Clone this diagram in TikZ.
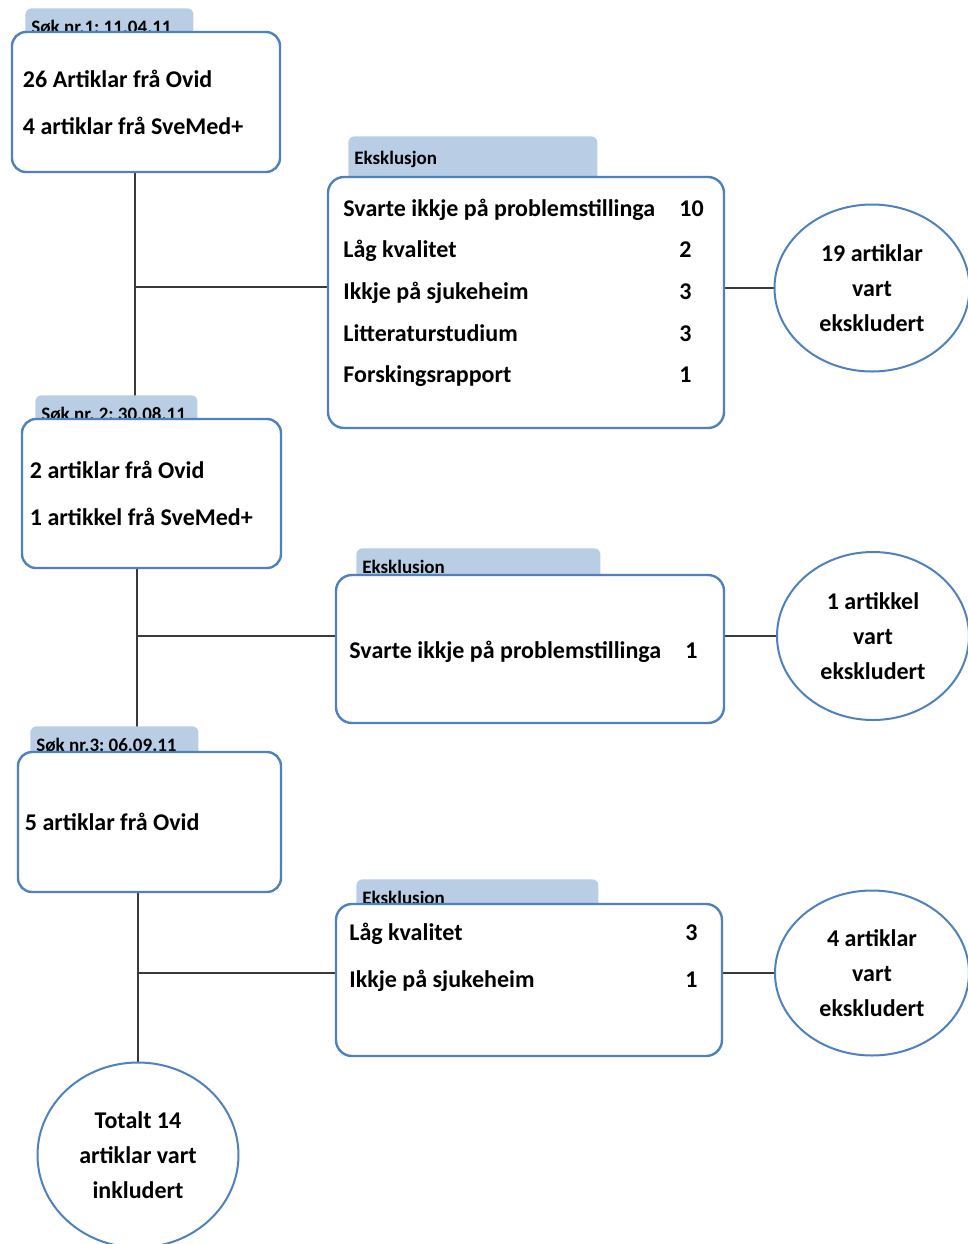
\documentclass[tikz,border=0pt]{standalone}
\usepackage{fontspec}
\setmainfont{Carlito}
\usetikzlibrary{shapes.geometric,positioning,backgrounds}
\definecolor{boxblue}{HTML}{4F81BD}
\definecolor{tabblue}{HTML}{B9CDE5}
\definecolor{linegray}{HTML}{3A3A3A}
\newcommand{\exrow}[2]{\makebox[168pt][l]{#1}#2}
\frenchspacing

\begin{document}
\begin{tikzpicture}[x=0.5pt,y=-0.5pt,
	sbox/.style={draw=boxblue,line width=1.2pt,fill=white,rounded corners=7pt,align=flush left,font=\bfseries\fontsize{12}{23.5}\selectfont},
	xbox/.style={draw=boxblue,line width=1.2pt,fill=white,rounded corners=8pt},
	tab/.style={fill=tabblue,rounded corners=3pt,anchor=north west,align=flush left,text width=#1,inner xsep=3pt,inner ysep=2pt,text height=10.5pt,text depth=10pt,font=\bfseries\fontsize{9.5}{11}\selectfont},
	row/.style={anchor=mid west,inner sep=0pt,font=\bfseries\fontsize{12}{14}\selectfont},
	res/.style={ellipse,draw=boxblue,line width=1pt,fill=white,align=center,inner sep=0pt,font=\bfseries\fontsize{12}{17.5}\selectfont},
	link/.style={draw=linegray,line width=0.6pt}]
	\useasboundingbox (0,0) rectangle (968,1244);
	% tabs
	\node[tab=78pt] (t1) at (25,8) {Søk nr.1: 11.04.11};
	\node[tab=75pt] (t2) at (35,395) {Søk nr. 2: 30.08.11};
	\node[tab=78pt] (t3) at (30,726) {Søk nr.3: 06.09.11};
	\node[tab=118.5pt,text height=12pt] (tx1) at (348,136) {Eksklusjon};
	\node[tab=116pt] (tx2) at (356,548) {Eksklusion};
	\node[tab=115pt] (tx3) at (356,879) {Eksklusion};
	% search boxes
	\node[sbox,text width=123pt,inner xsep=5.5pt,minimum height=70pt] (b1) at (146,102)
		{26 Artiklar frå Ovid\\4 artiklar frå SveMed+};
	\node[sbox,text width=121.5pt,inner xsep=4pt,minimum height=74.5pt] (b2) at (151.5,493.5)
		{2 artiklar frå Ovid\\1 artikkel frå SveMed+};
	\node[sbox,text width=124.5pt,inner xsep=3.5pt,minimum height=70pt] (b3) at (149.5,822)
		{5 artiklar frå Ovid};
	% exclusion boxes
	\node[xbox,minimum width=198pt,minimum height=125.5pt] (e1) at (526,302.5) {};
	\node[xbox,minimum width=194pt,minimum height=74pt] (e2) at (530,649) {};
	\node[xbox,minimum width=193pt,minimum height=76pt] (e3) at (529,980) {};
	\node[row] (r11) at (343,212) {\exrow{Svarte ikkje på problemstillinga}{10}};
	\node[row] (r12) at (343,253) {\exrow{Låg kvalitet}{2}};
	\node[row] (r13) at (343,295) {\exrow{Ikkje på sjukeheim}{3}};
	\node[row] (r14) at (343,337) {\exrow{Litteraturstudium}{3}};
	\node[row] (r15) at (343,378) {\exrow{Forskingsrapport}{1}};
	\node[row] (r21) at (349,654) {\exrow{Svarte ikkje på problemstillinga}{1}};
	\node[row] (r31) at (349,936) {\exrow{Låg kvalitet}{3}};
	\node[row] (r32) at (349,983) {\exrow{Ikkje på sjukeheim}{1}};
	% results
	\node[res,minimum width=97.5pt,minimum height=83.5pt] (o1) at (872,288) {19 artiklar\\vart\\ekskludert};
	\node[res,minimum width=96pt,minimum height=84pt] (o2) at (873,636) {1 artikkel\\vart\\ekskludert};
	\node[res,minimum width=97pt,minimum height=82.5pt] (o3) at (872,973) {4 artiklar\\vart\\ekskludert};
	\node[res,minimum width=100.5pt,minimum height=92.5pt] (fin) at (138,1155) {Totalt 14\\artiklar vart\\inkludert};
	% connectors
	\coordinate (j1) at (135,287);
	\coordinate (j2) at (137,636);
	\coordinate (j3) at (138,973);
	\begin{pgfonlayer}{background}
	\path[link]
	(b1.south -| j1)	-- (b2.north -| j1)
	(j1)	-- (j1 -| e1.west)
	(e1.east |- o1)	-- (o1.west)
	(b2.south -| j2)	-- (b3.north -| j2)
	(j2)	-- (j2 -| e2.west)
	(e2.east |- o2)	-- (o2.west)
	(b3.south -| j3)	-- (fin.north)
	(j3)	-- (j3 -| e3.west)
	(e3.east |- o3)	-- (o3.west)
	;
	\end{pgfonlayer}
\end{tikzpicture}
\end{document}
